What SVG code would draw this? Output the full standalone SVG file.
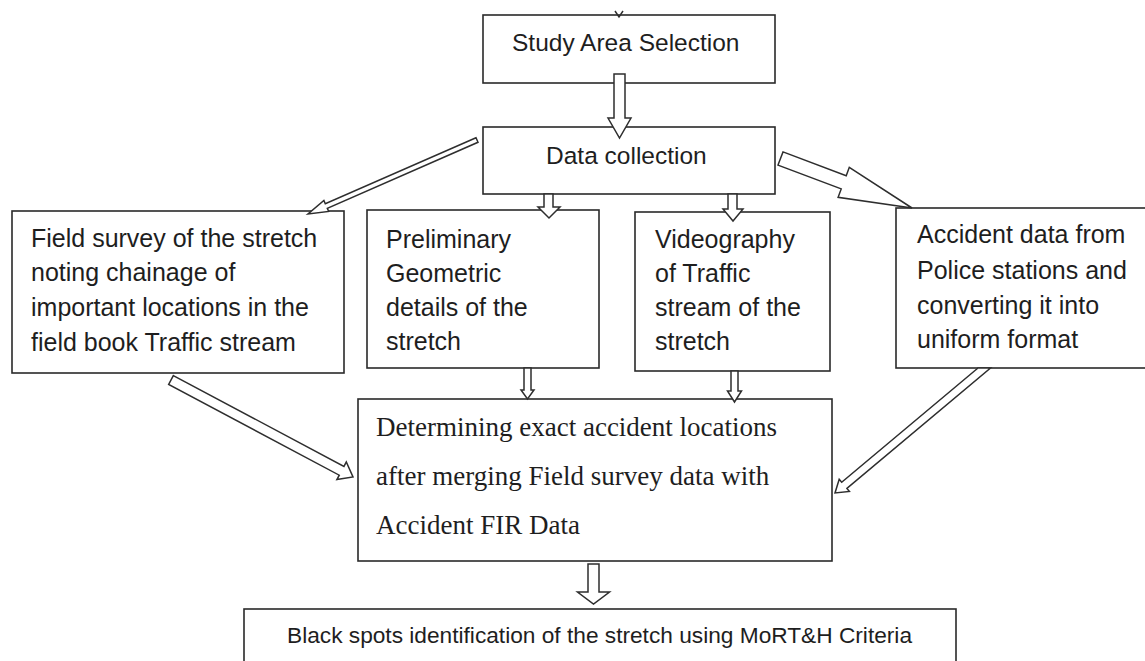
<svg xmlns="http://www.w3.org/2000/svg" width="1145" height="661" viewBox="0 0 1145 661">
<style>
.box{fill:#fff;stroke:#2a2a2a;stroke-width:1.6}
.t{font-family:"Liberation Sans",Arial,sans-serif;font-size:25px;fill:#1e1e1e}
.ts{font-family:"Liberation Serif","Times New Roman",serif;font-size:27px;fill:#1e1e1e}
.arr{fill:#fff;stroke:#2e2e2e;stroke-width:1.5;stroke-linejoin:miter}
</style>
<rect x="0" y="0" width="1145" height="661" fill="#fff"/>
<g id="study">
<rect class="box" x="483" y="15" width="292" height="68"/>
<text class="t" x="512" y="51" style="font-size:24.5px">Study Area Selection</text>
</g>
<g id="data">
<rect class="box" x="483" y="127" width="292" height="67"/>
<text class="t" x="546" y="164" style="font-size:24.5px">Data collection</text>
</g>
<g id="field">
<rect class="box" x="12" y="211" width="332" height="162"/>
<text class="t" x="31" y="247">Field survey of the stretch</text>
<text class="t" x="31" y="281">noting chainage of</text>
<text class="t" x="31" y="316">important locations in the</text>
<text class="t" x="31" y="351">field book Traffic stream</text>
</g>
<g id="prelim">
<rect class="box" x="367" y="210" width="232" height="158"/>
<text class="t" x="386" y="248">Preliminary</text>
<text class="t" x="386" y="282">Geometric</text>
<text class="t" x="386" y="316">details of the</text>
<text class="t" x="386" y="350">stretch</text>
</g>
<g id="video">
<rect class="box" x="635" y="212" width="195" height="159"/>
<text class="t" x="655" y="248">Videography</text>
<text class="t" x="655" y="282">of Traffic</text>
<text class="t" x="655" y="316">stream of the</text>
<text class="t" x="655" y="350">stretch</text>
</g>
<g id="accident">
<rect class="box" x="896" y="208" width="262" height="160"/>
<text class="t" x="917" y="243">Accident data from</text>
<text class="t" x="917" y="279">Police stations and</text>
<text class="t" x="917" y="314">converting it into</text>
<text class="t" x="917" y="348">uniform format</text>
</g>
<g id="determining">
<rect class="box" x="358" y="399" width="474" height="162"/>
<text class="ts" x="376" y="436">Determining exact accident locations</text>
<text class="ts" x="376" y="485">after merging Field survey data with</text>
<text class="ts" x="376" y="534">Accident FIR Data</text>
</g>
<g id="blackspots">
<rect class="box" x="244" y="609" width="712" height="62"/>
<text class="t" x="287" y="643" style="font-size:22.7px">Black spots identification of the stretch using MoRT&amp;H Criteria</text>
</g>
<g id="connectors">
<polyline points="615,11 619,17 623,11" fill="none" stroke="#2e2e2e" stroke-width="1.5"/>
<polygon class="arr" points="614,74 625,74 625,118 631,118 619.5,138 608,118 614,118"/>
<polygon class="arr" points="544,194 553,194 553,207 560,207 549,218 538,207 544,207"/>
<polygon class="arr" points="728,194 737,194 737,209 743,209 733,221 723,209 728,209"/>
<polygon class="arr" points="524,368 531,368 531,390 534,390 527.5,399 521,390 524,390"/>
<polygon class="arr" points="731,371 738,371 738,391 741.5,391 734.5,402 727.5,391 731,391"/>
<polygon class="arr" points="588,564 599,564 599,592 609.5,592 593.5,604 577.5,592 588,592"/>
<polygon class="arr" points="783,151.9 846.2,175.7 849.3,167.3 912,208 838.1,197.3 841.2,188.9 778,165.1"/>
<polygon class="arr" points="476,137.7 325.3,203.7 323.9,200.5 308,214 328.7,211.5 327.3,208.3 478,142.3"/>
<polygon class="arr" points="173.35,375.6 343.95,466.4 346.3,462 353,477 336.9,479.6 339.25,475.2 168.65,384.4"/>
<polygon class="arr" points="978,368 841.7,482.2 839.2,479.2 835,493 849.4,491.4 846.9,488.4 990.5,368"/>
</g>
</svg>
